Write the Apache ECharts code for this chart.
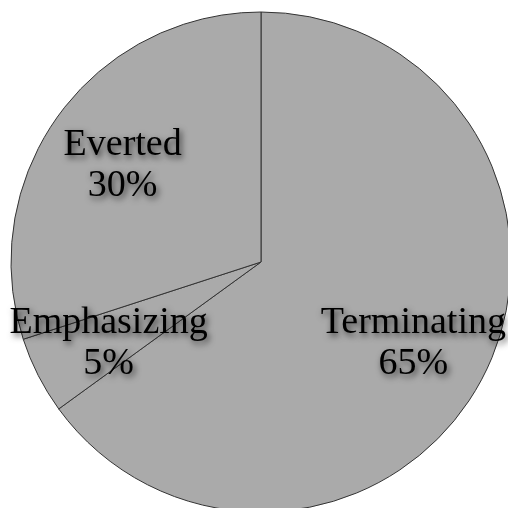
<!DOCTYPE html>
<html lang="en">
<head>
    <meta charset="UTF-8">
    <title>Pie</title>
    <script src="https://cdn.jsdelivr.net/npm/echarts@6/dist/echarts.min.js"></script>
    <style>
        html,body{margin:0;padding:0;background:#fff;}
    </style>
</head>
<body>
<div id="main" style="width:508px;height:508px;"></div>
<script>
    // data
    var names = ['Terminating', 'Emphasizing', 'Everted'];
    var values = [65, 5, 30];

    var pieData = [];
    for (var i = 0; i < names.length; i++) {
        pieData.push({name: names[i], value: values[i]});
    }

    var myChart = echarts.init(document.getElementById('main'));
    var option = {
        animation: false,
        series: [{
            // the slices
            type: 'pie',
            center: [261, 262],
            radius: [0, 250],
            startAngle: 90,
            clockwise: true,
            silent: true,
            avoidLabelOverlap: false,
            label: {show: false},
            labelLine: {show: false},
            itemStyle: {color: '#aaaaaa', borderColor: '#333333', borderWidth: 1},
            data: pieData
        }, {
            // invisible ring just to place the labels further out
            type: 'pie',
            center: [261, 262],
            radius: [86, 250],
            startAngle: 90,
            clockwise: true,
            silent: true,
            avoidLabelOverlap: false,
            itemStyle: {color: 'rgba(0,0,0,0)', borderWidth: 0},
            labelLine: {show: false},
            labelLayout: {dy: 4},
            label: {
                show: true,
                position: 'inside',
                formatter: '{b}\n{d}%',
                fontFamily: 'Liberation Serif',
                fontSize: 38,
                lineHeight: 41,
                color: '#000',
                textBorderWidth: 0,
                textShadowColor: 'rgba(0,0,0,0.7)',
                textShadowBlur: 6,
                textShadowOffsetX: 2,
                textShadowOffsetY: 3
            },
            data: pieData
        }]
    };
    myChart.setOption(option);
</script>
</body>
</html>
